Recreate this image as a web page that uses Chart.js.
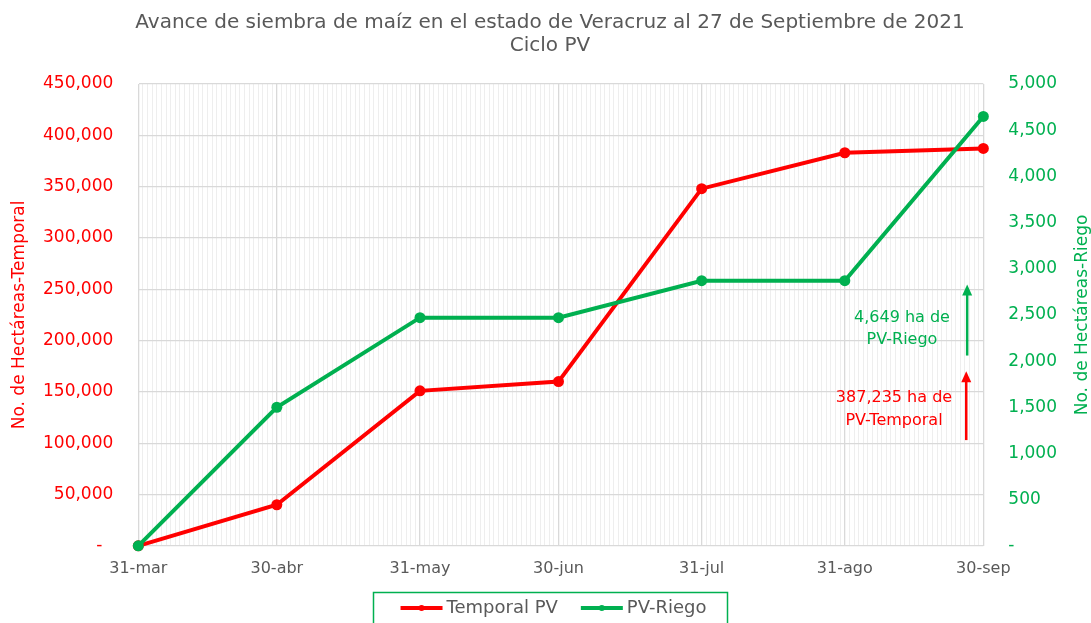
<!DOCTYPE html>
<html>
<head>
<meta charset="utf-8">
<script src="https://cdn.jsdelivr.net/npm/chart.js@4"></script>
<style>
  html, body { margin: 0; padding: 0; background: #fff; }
  #wrap { width: 1091px; height: 623px; }
</style>
</head>
<body>
<div id="wrap"><canvas id="grafica" width="1091" height="623"></canvas></div>
<script>
// datos
const fechas = ["2021-03-31", "2021-04-30", "2021-05-31", "2021-06-30", "2021-07-31", "2021-08-31", "2021-09-30"];
const etiquetas = ["31-mar", "30-abr", "31-may", "30-jun", "31-jul", "31-ago", "30-sep"];
const temporal = [0, 40000, 151000, 160000, 348000, 383000, 387235];
const riego = [0, 1500, 2470, 2470, 2870, 2870, 4649];
const ticksTemporal = [0, 50000, 100000, 150000, 200000, 250000, 300000, 350000, 400000, 450000];
const ticksRiego = [0, 500, 1000, 1500, 2000, 2500, 3000, 3500, 4000, 4500, 5000];

const GRIS = "#595959";
const ROJO = "#ff0000";
const VERDE = "#00b050";
const FUENTE = "'DejaVu Sans', sans-serif";

const dia0 = Date.parse(fechas[0]);
const dias = fechas.map((f) => Math.round((Date.parse(f) - dia0) / 86400000));
const ultimoDia = dias[dias.length - 1];

const fmt = (v) => (v === 0 ? "-  " : v.toLocaleString("en-US"));

const extras = {
  id: "extras",
  afterDatasetsDraw: (chart) => {
    const { ctx, chartArea } = chart;
    const x = chart.scales.x;
    const yl = chart.scales.y;
    const yr = chart.scales.y1;
    ctx.save();
    ctx.font = "16px " + FUENTE;
    ctx.textAlign = "center";
    ctx.textBaseline = "middle";
    ctx.fillStyle = VERDE;
    ctx.fillText("4,649 ha de", 902, 318);
    ctx.fillText("PV-Riego", 902, 340);
    ctx.fillStyle = ROJO;
    ctx.fillText("387,235 ha de", 894, 398);
    ctx.fillText("PV-Temporal", 894, 421);

    const flecha = (color, xp, y0, y1) => {
      ctx.strokeStyle = color;
      ctx.fillStyle = color;
      ctx.lineWidth = 2.5;
      ctx.beginPath();
      ctx.moveTo(xp, y0);
      ctx.lineTo(xp, y1 + 8);
      ctx.stroke();
      ctx.beginPath();
      ctx.moveTo(xp, y1);
      ctx.lineTo(xp - 5, y1 + 11);
      ctx.lineTo(xp + 5, y1 + 11);
      ctx.closePath();
      ctx.fill();
    };
    flecha(VERDE, x.getPixelForValue(179.5), yr.getPixelForValue(2060), yr.getPixelForValue(2830));
    flecha(ROJO, x.getPixelForValue(179.3), yl.getPixelForValue(103000), yl.getPixelForValue(170000));

    // titulos de ejes (ambos se leen de abajo hacia arriba)
    const medio = (chartArea.top + chartArea.bottom) / 2;
    const tituloEje = (texto, color, xp) => {
      ctx.save();
      ctx.translate(xp, medio);
      ctx.rotate(-Math.PI / 2);
      ctx.fillStyle = color;
      ctx.font = "17px " + FUENTE;
      ctx.fillText(texto, 0, 0);
      ctx.restore();
    };
    tituloEje("No. de Hectáreas-Temporal", ROJO, 20);
    tituloEje("No. de Hectáreas-Riego", VERDE, 1083);

    // leyenda propia
    const items = [
      { texto: "Temporal PV", color: ROJO },
      { texto: "PV-Riego", color: VERDE },
    ];
    ctx.font = "18px " + FUENTE;
    const largo = 42, sep = 4, hueco = 23;
    const anchos = items.map((it) => ctx.measureText(it.texto).width);
    const total = anchos.reduce((a, w) => a + largo + sep + w, 0) + hueco * (items.length - 1);
    let px = chart.width / 2 + 8 - total / 2;
    const py = 608;
    ctx.textAlign = "left";
    items.forEach((it, i) => {
      ctx.strokeStyle = it.color;
      ctx.fillStyle = it.color;
      ctx.lineWidth = 4;
      ctx.beginPath();
      ctx.moveTo(px, py);
      ctx.lineTo(px + largo, py);
      ctx.stroke();
      ctx.beginPath();
      ctx.arc(px + largo / 2, py, 3, 0, Math.PI * 2);
      ctx.fill();
      ctx.fillStyle = GRIS;
      ctx.fillText(it.texto, px + largo + sep, py);
      px += largo + sep + anchos[i] + hueco;
    });
    ctx.strokeStyle = VERDE;
    ctx.lineWidth = 1.5;
    ctx.strokeRect(373.5, 592.5, 354, 40);
    ctx.restore();
  },
};

const grafica = new Chart(document.getElementById("grafica"), {
  type: "line",
  data: {
    datasets: [
      {
        label: "Temporal PV",
        data: dias.map((d, i) => ({ x: d, y: temporal[i] })),
        borderColor: ROJO,
        backgroundColor: ROJO,
        borderWidth: 4,
        pointRadius: 5.5,
        pointBorderWidth: 0,
        yAxisID: "y",
        order: 1,
        clip: false,
      },
      {
        label: "PV-Riego",
        data: dias.map((d, i) => ({ x: d, y: riego[i] })),
        borderColor: VERDE,
        backgroundColor: VERDE,
        borderWidth: 4,
        pointRadius: 5.5,
        pointBorderWidth: 0,
        yAxisID: "y1",
        order: 0,
        clip: false,
      },
    ],
  },
  options: {
    responsive: false,
    animation: false,
    layout: { padding: { left: 18, right: 9, top: 1, bottom: 32 } },
    scales: {
      x: {
        type: "linear",
        min: 0,
        max: ultimoDia,
        afterBuildTicks: (axis) => {
          const t = [];
          for (let d = 0; d <= ultimoDia; d++) t.push({ value: d });
          axis.ticks = t;
        },
        border: { display: false },
        grid: {
          drawTicks: false,
          color: (c) => (c.tick && dias.includes(c.tick.value) ? "#d9d9d9" : "#eeeeee"),
          lineWidth: (c) => (c.tick && dias.includes(c.tick.value) ? 1.3 : 1),
        },
        ticks: {
          autoSkip: false,
          maxRotation: 0,
          padding: 13,
          color: GRIS,
          font: { family: FUENTE, size: 16 },
          callback: (v) => {
            const i = dias.indexOf(v);
            return i >= 0 ? etiquetas[i] : "";
          },
        },
      },
      y: {
        position: "left",
        min: 0,
        max: 450000,
        afterBuildTicks: (axis) => {
          axis.ticks = ticksTemporal.map((v) => ({ value: v }));
        },
        border: { display: true, color: "#d9d9d9" },
        grid: { drawTicks: false, color: "#d9d9d9", lineWidth: 1.3 },
        ticks: {
          padding: 25,
          color: ROJO,
          font: { family: FUENTE, size: 17 },
          callback: (v) => fmt(v),
        },
      },
      y1: {
        position: "right",
        min: 0,
        max: 5000,
        afterBuildTicks: (axis) => {
          axis.ticks = ticksRiego.map((v) => ({ value: v }));
        },
        border: { display: true, color: "#d9d9d9" },
        grid: { drawOnChartArea: false, drawTicks: false },
        ticks: {
          padding: 25,
          color: VERDE,
          font: { family: FUENTE, size: 17 },
          callback: (v) => fmt(v),
        },
      },
    },
    plugins: {
      title: {
        display: true,
        text: ["Avance de siembra de maíz en el estado de Veracruz al 27 de Septiembre de 2021", "Ciclo PV"],
        color: GRIS,
        font: { family: FUENTE, size: 20, weight: "normal", lineHeight: 1.15 },
        padding: { top: 10, bottom: 27 },
      },
      legend: { display: false },
      tooltip: { enabled: false },
    },
  },
  plugins: [extras],
});
</script>
</body>
</html>
